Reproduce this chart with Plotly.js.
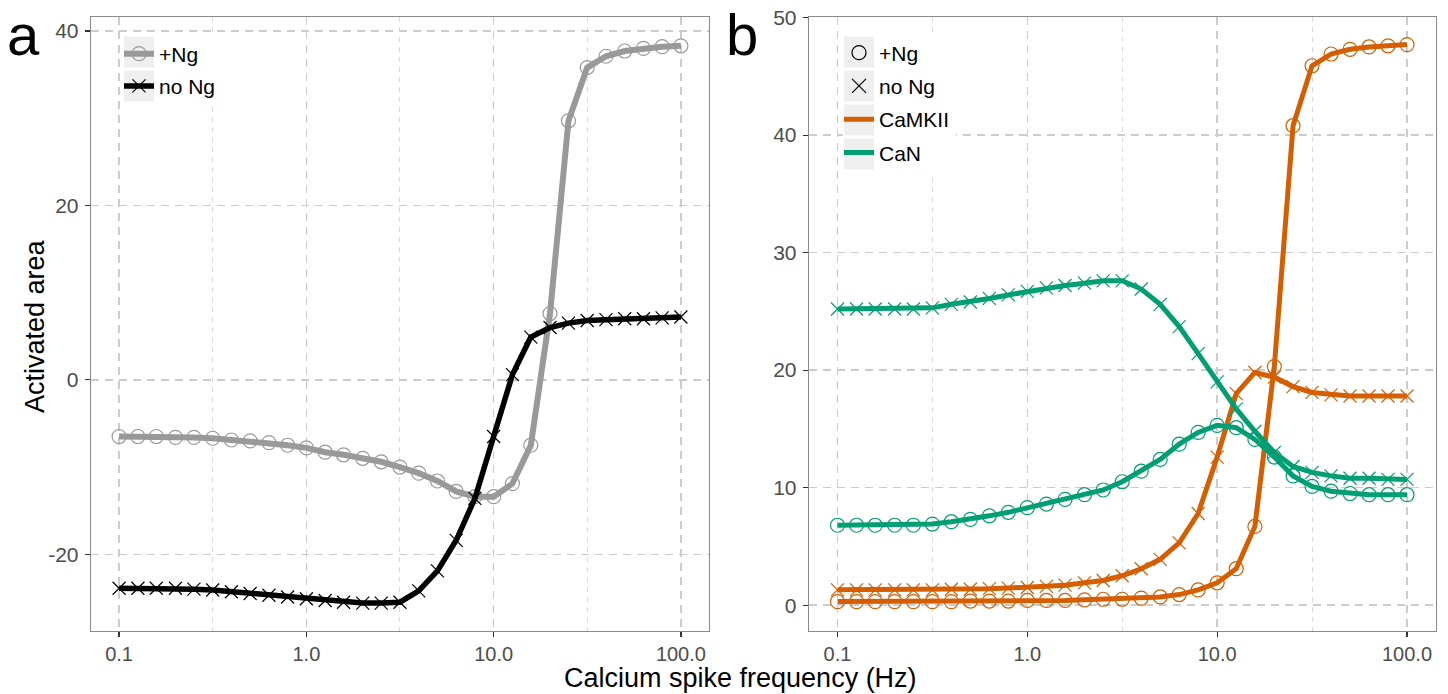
<!DOCTYPE html>
<html>
<head>
<meta charset="utf-8">
<script src="https://cdn.plot.ly/plotly-3.0.1.min.js"></script>
<style>html,body{margin:0;padding:0;background:#fff;}#chart{width:1448px;height:694px;}</style>
</head>
<body>
<div id="chart"></div>
<script>
// Calcium spike frequency (Hz), 10 points per decade
const freq = [0.1, 0.126, 0.158, 0.2, 0.251, 0.316, 0.398, 0.501, 0.631, 0.794,
              1.0, 1.26, 1.58, 2.0, 2.51, 3.16, 3.98, 5.01, 6.31, 7.94,
              10.0, 12.6, 15.8, 20.0, 25.1, 31.6, 39.8, 50.1, 63.1, 79.4, 100.0];

// Panel a: activated area
const areaNg = [-6.5, -6.5, -6.5, -6.6, -6.6, -6.7, -6.9, -7.0, -7.2, -7.5,
                -7.8, -8.3, -8.6, -9.0, -9.4, -10.0, -10.7, -11.6, -12.8, -13.4,
                -13.4, -11.9, -7.5, 7.6, 29.7, 35.8, 37.1, 37.7, 38.0, 38.2, 38.3];
const areaNoNg = [-23.9, -23.9, -23.9, -23.9, -24.0, -24.1, -24.3, -24.5, -24.7, -24.9,
                  -25.1, -25.3, -25.5, -25.6, -25.6, -25.5, -24.2, -21.9, -18.4, -13.6,
                  -6.5, 0.6, 4.9, 6.0, 6.5, 6.8, 6.9, 7.0, 7.0, 7.1, 7.2];

// Panel b: CaMKII and CaN
const camkiiNg = [0.3, 0.3, 0.3, 0.3, 0.3, 0.3, 0.3, 0.35, 0.35, 0.35,
                  0.4, 0.4, 0.4, 0.45, 0.5, 0.5, 0.6, 0.7, 0.9, 1.3,
                  1.9, 3.1, 6.7, 20.3, 40.8, 45.9, 46.9, 47.3, 47.5, 47.6, 47.7];
const camkiiNoNg = [1.3, 1.3, 1.3, 1.3, 1.3, 1.3, 1.35, 1.35, 1.4, 1.45,
                    1.5, 1.6, 1.7, 1.9, 2.1, 2.5, 3.1, 3.9, 5.3, 7.8,
                    12.6, 18.0, 19.8, 19.4, 18.6, 18.1, 17.9, 17.8, 17.8, 17.8, 17.8];
const canNg = [6.8, 6.8, 6.8, 6.8, 6.8, 6.9, 7.1, 7.3, 7.6, 7.9,
               8.3, 8.6, 9.0, 9.4, 9.8, 10.5, 11.4, 12.4, 13.7, 14.7,
               15.3, 15.1, 14.1, 12.6, 11.0, 10.1, 9.7, 9.5, 9.4, 9.4, 9.4];
const canNoNg = [25.2, 25.2, 25.2, 25.2, 25.2, 25.3, 25.6, 25.8, 26.1, 26.4,
                 26.7, 27.0, 27.2, 27.4, 27.6, 27.6, 26.9, 25.6, 23.7, 21.4,
                 19.0, 16.7, 14.8, 13.0, 11.8, 11.3, 11.0, 10.8, 10.8, 10.7, 10.7];

const xTickVals = [0.1, 1, 10, 100];
const xTickText = ['0.1', '1.0', '10.0', '100.0'];
const xMinorVals = [0.3162, 3.162, 31.62];
const yTicksA = [-20, 0, 20, 40];
const yTickTextA = ['-20', '0', '20', '40'];
const yTicksB = [0, 10, 20, 30, 40, 50];
const yTickTextB = ['0', '10', '20', '30', '40', '50'];

const FONT = 'Liberation Sans, Arial, sans-serif';
const GREY = '#999999', BLACK = '#000000', ORANGE = '#D55E00', GREEN = '#009E73';

const W = 1448, H = 694, MT = 17, MB = 63;
const PH = H - MT - MB;
const px = v => v / W;
const py = v => (H - MB - v) / PH;

function tr(y, color, symbol, xa, ya, name, showleg, legend, width) {
  return {
    x: freq, y: y, xaxis: xa, yaxis: ya, type: 'scatter', mode: 'lines+markers',
    name: name, showlegend: showleg, legend: legend, legendgroup: name + xa,
    line: {color: color, width: width},
    marker: {symbol: symbol, size: symbol === 'circle-open' ? 14 : 13, color: color,
             line: {color: color, width: 1.2}},
    hoverinfo: 'skip'
  };
}

const data = [
  tr(areaNg, GREY, 'circle-open', 'x', 'y', '+Ng', true, 'legend', 6),
  tr(areaNoNg, BLACK, 'x-thin-open', 'x', 'y', 'no Ng', true, 'legend', 5.5),
  tr(camkiiNg, ORANGE, 'circle-open', 'x2', 'y2', 'ck1', false, 'legend2', 5),
  tr(camkiiNoNg, ORANGE, 'x-thin-open', 'x2', 'y2', 'ck2', false, 'legend2', 5),
  tr(canNg, GREEN, 'circle-open', 'x2', 'y2', 'cn1', false, 'legend2', 5),
  tr(canNoNg, GREEN, 'x-thin-open', 'x2', 'y2', 'cn2', false, 'legend2', 5),
  // legend-only entries for panel b
  {x: [null], y: [null], xaxis: 'x2', yaxis: 'y2', type: 'scatter', mode: 'markers', name: '+Ng',
   legend: 'legend2', legendgroup: 'l1', marker: {symbol: 'circle-open', size: 14, color: BLACK, line: {width: 1.2, color: BLACK}}},
  {x: [null], y: [null], xaxis: 'x2', yaxis: 'y2', type: 'scatter', mode: 'markers', name: 'no Ng',
   legend: 'legend2', legendgroup: 'l2', marker: {symbol: 'x-thin-open', size: 14, color: BLACK, line: {width: 1.2, color: BLACK}}},
  {x: [null], y: [null], xaxis: 'x2', yaxis: 'y2', type: 'scatter', mode: 'lines', name: 'CaMKII',
   legend: 'legend2', legendgroup: 'l3', line: {color: ORANGE, width: 5}},
  {x: [null], y: [null], xaxis: 'x2', yaxis: 'y2', type: 'scatter', mode: 'lines', name: 'CaN',
   legend: 'legend2', legendgroup: 'l4', line: {color: GREEN, width: 5}}
];

function xax(domain, anchor) {
  return {
    type: 'log', range: [-1.15, 2.15], domain: domain, anchor: anchor,
    tickvals: xTickVals, ticktext: xTickText, ticks: 'outside', ticklen: 5, tickwidth: 1.2, tickcolor: '#333333',
    showline: true, mirror: true, linecolor: '#8a8a8a', linewidth: 1.3,
    showgrid: true, gridcolor: '#cccccc', griddash: '8px,6px', gridwidth: 1.4, zeroline: false,
    tickfont: {family: FONT, size: 20, color: '#4d4d4d'},
    minor: {tickvals: xMinorVals, showgrid: true, gridcolor: '#d6d6d6', griddash: '5px,5px', gridwidth: 0.9, ticks: ''}
  };
}
function yax(range, ticks, text, anchor) {
  return {
    range: range, domain: [0, 1], anchor: anchor, tickvals: ticks, ticktext: text,
    ticks: 'outside', ticklen: 5, tickwidth: 1.2, tickcolor: '#333333',
    ticklabelstandoff: 2,
    showline: true, mirror: true, linecolor: '#8a8a8a', linewidth: 1.3,
    showgrid: true, gridcolor: '#cccccc', griddash: '8px,6px', gridwidth: 1.4, zeroline: false,
    tickfont: {family: FONT, size: 21, color: '#4d4d4d'}
  };
}

const legendBase = {
  font: {family: FONT, size: 21, color: '#000'}, bgcolor: 'rgba(0,0,0,0)',
  xanchor: 'left', yanchor: 'top', itemwidth: 30
};

// legend decoration: white background and grey key boxes (ggplot style)
const KEY = '#EFEFEF';
function rect(x0, y0, x1, y1, color) {
  return {type: 'rect', xref: 'paper', yref: 'paper', x0: px(x0), x1: px(x1), y0: py(y1), y1: py(y0),
          fillcolor: color, line: {width: 0}, layer: 'above'};
}
const shapes = [
  rect(123, 36, 232, 104, '#ffffff'),
  rect(124, 36.5, 154, 67.5, KEY), rect(124, 70.5, 154, 101.5, KEY),
  rect(843, 36, 956, 172, '#ffffff'),
  rect(844, 36.5, 874, 67.5, KEY), rect(844, 70.5, 874, 101.5, KEY),
  rect(844, 104.5, 874, 135.5, KEY), rect(844, 138.5, 874, 169.5, KEY)
];

const layout = {
  width: W, height: H,
  margin: {l: 0, r: 0, t: MT, b: MB},
  paper_bgcolor: '#ffffff', plot_bgcolor: '#ffffff',
  font: {family: FONT},
  showlegend: true,
  xaxis: xax([px(91), px(709)], 'y'),
  yaxis: yax([-28.8, 41.6], yTicksA, yTickTextA, 'x'),
  xaxis2: xax([px(809), px(1435.5)], 'y2'),
  yaxis2: yax([-2.2, 50.05], yTicksB, yTickTextB, 'x2'),
  legend: Object.assign({}, legendBase, {x: px(119), y: py(33.5), tracegroupgap: 2}),
  legend2: Object.assign({}, legendBase, {x: px(839), y: py(32.5), tracegroupgap: 3}),
  shapes: shapes,
  annotations: [
    {text: 'Calcium spike frequency (Hz)', xref: 'paper', yref: 'paper', x: px(740), y: py(678),
     xanchor: 'center', yanchor: 'middle', showarrow: false, font: {family: FONT, size: 27, color: '#000'}},
    {text: 'Activated area', xref: 'paper', yref: 'paper', x: px(35), y: py(326), textangle: -90,
     xanchor: 'center', yanchor: 'middle', showarrow: false, font: {family: FONT, size: 27, color: '#000'}},
    {text: 'a', xref: 'paper', yref: 'paper', x: px(23), y: py(0), xanchor: 'center', yanchor: 'top',
     showarrow: false, font: {family: FONT, size: 58, color: '#000'}},
    {text: 'b', xref: 'paper', yref: 'paper', x: px(742), y: py(0), xanchor: 'center', yanchor: 'top',
     showarrow: false, font: {family: FONT, size: 58, color: '#000'}}
  ]
};

Plotly.newPlot('chart', data, layout, {staticPlot: true, displayModeBar: false});
</script>
</body>
</html>
